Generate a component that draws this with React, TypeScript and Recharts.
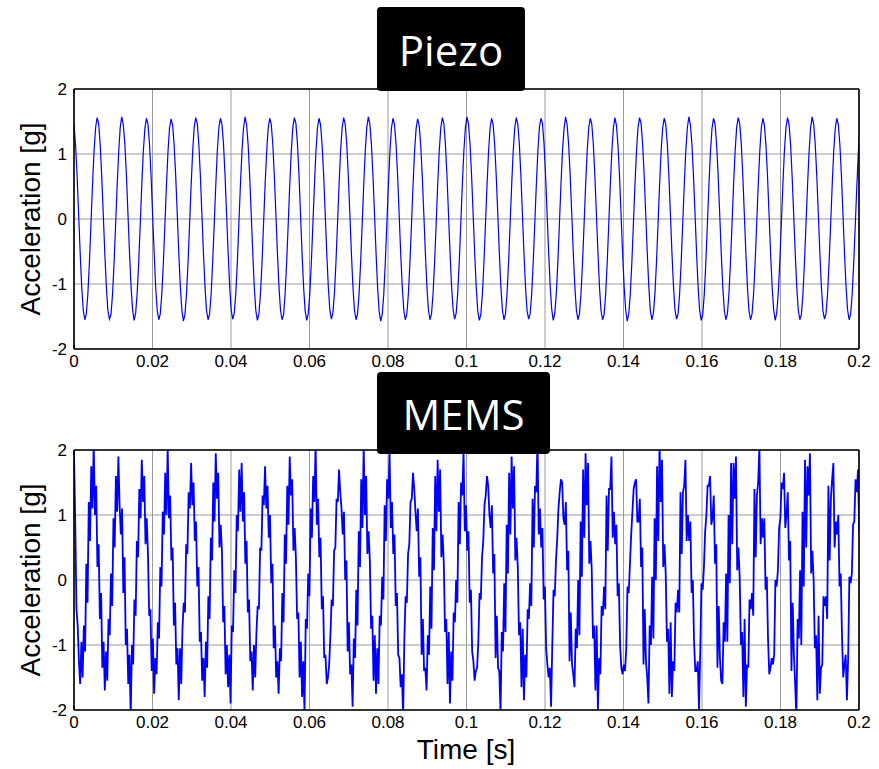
import React from 'react';
import { LineChart, Line, XAxis, YAxis, CartesianGrid } from 'recharts';

// Sampling rates (Hz) of the two recorded signals
const piezoRate = 2547;
const memsRate = 3184;

const xTicks = [0, 0.02, 0.04, 0.06, 0.08, 0.1, 0.12, 0.14, 0.16, 0.18, 0.2];
const yTicks = [-2, -1, 0, 1, 2];

const piezoValues = [
  1.46,1.15,0.67,0.08,-0.52,-1.04,-1.40,-1.55,-1.46,-1.15,-0.67,-0.08,0.52,1.04,1.40,1.56,
  1.47,1.14,0.66,0.07,-0.53,-1.05,-1.41,-1.54,-1.47,-1.16,-0.68,-0.09,0.51,1.03,1.41,1.57,
  1.45,1.16,0.68,0.09,-0.51,-1.03,-1.39,-1.56,-1.45,-1.14,-0.66,-0.07,0.53,1.05,1.39,1.55,
  1.46,1.15,0.67,0.08,-0.52,-1.05,-1.41,-1.55,-1.46,-1.15,-0.67,-0.08,0.52,1.04,1.40,1.54,
  1.44,1.13,0.66,0.08,-0.53,-1.04,-1.40,-1.57,-1.47,-1.16,-0.67,-0.09,0.51,1.04,1.41,1.56,
  1.47,1.15,0.67,0.07,-0.52,-1.04,-1.41,-1.55,-1.46,-1.15,-0.66,-0.08,0.52,1.05,1.40,1.55,
  1.46,1.16,0.68,0.09,-0.51,-1.03,-1.40,-1.54,-1.45,-1.14,-0.67,-0.07,0.53,1.04,1.40,1.57,
  1.45,1.14,0.66,0.08,-0.52,-1.05,-1.41,-1.56,-1.46,-1.15,-0.68,-0.08,0.52,1.03,1.39,1.55,
  1.46,1.15,0.67,0.08,-0.52,-1.04,-1.40,-1.55,-1.47,-1.15,-0.67,-0.08,0.52,1.04,1.41,1.56,
  1.47,1.16,0.67,0.07,-0.53,-1.05,-1.41,-1.56,-1.46,-1.16,-0.68,-0.09,0.51,1.04,1.40,1.55,
  1.45,1.14,0.68,0.09,-0.51,-1.03,-1.39,-1.54,-1.45,-1.14,-0.66,-0.07,0.53,1.05,1.40,1.56,
  1.46,1.15,0.66,0.08,-0.52,-1.04,-1.40,-1.55,-1.46,-1.15,-0.67,-0.08,0.52,1.04,1.41,1.57,
  1.46,1.15,0.67,0.08,-0.52,-1.05,-1.41,-1.57,-1.47,-1.16,-0.67,-0.08,0.52,1.03,1.40,1.55,
  1.45,1.14,0.67,0.07,-0.53,-1.04,-1.40,-1.55,-1.46,-1.15,-0.66,-0.09,0.51,1.04,1.39,1.54,
  1.44,1.13,0.66,0.08,-0.52,-1.04,-1.40,-1.55,-1.46,-1.15,-0.67,-0.08,0.52,1.04,1.40,1.56,
  1.47,1.16,0.68,0.09,-0.51,-1.03,-1.39,-1.54,-1.45,-1.14,-0.66,-0.07,0.53,1.05,1.41,1.57,
  1.46,1.15,0.67,0.08,-0.52,-1.05,-1.41,-1.56,-1.47,-1.16,-0.68,-0.09,0.51,1.03,1.40,1.55,
  1.45,1.14,0.66,0.08,-0.52,-1.04,-1.40,-1.55,-1.46,-1.15,-0.67,-0.08,0.52,1.04,1.40,1.56,
  1.46,1.15,0.67,0.07,-0.53,-1.05,-1.41,-1.54,-1.46,-1.15,-0.67,-0.08,0.52,1.04,1.41,1.55,
  1.47,1.16,0.68,0.09,-0.51,-1.03,-1.39,-1.56,-1.45,-1.14,-0.66,-0.07,0.53,1.05,1.39,1.57,
  1.45,1.14,0.66,0.08,-0.52,-1.04,-1.40,-1.55,-1.46,-1.15,-0.67,-0.08,0.52,1.04,1.40,1.55,
  1.46,1.15,0.67,0.08,-0.52,-1.05,-1.41,-1.55,-1.47,-1.16,-0.68,-0.09,0.51,1.03,1.40,1.56,
  1.44,1.13,0.66,0.07,-0.53,-1.04,-1.40,-1.57,-1.46,-1.15,-0.67,-0.08,0.52,1.04,1.41,1.56,
  1.47,1.15,0.67,0.08,-0.52,-1.04,-1.41,-1.55,-1.45,-1.14,-0.66,-0.07,0.53,1.05,1.40,1.55,
  1.46,1.16,0.68,0.09,-0.51,-1.03,-1.40,-1.54,-1.46,-1.15,-0.67,-0.08,0.52,1.04,1.40,1.57,
  1.45,1.14,0.66,0.08,-0.52,-1.05,-1.41,-1.56,-1.47,-1.16,-0.68,-0.09,0.51,1.03,1.39,1.55,
  1.46,1.15,0.67,0.08,-0.52,-1.04,-1.40,-1.55,-1.46,-1.15,-0.67,-0.08,0.52,1.04,1.41,1.56,
  1.47,1.16,0.67,0.07,-0.53,-1.05,-1.41,-1.55,-1.46,-1.15,-0.67,-0.08,0.52,1.04,1.40,1.55,
  1.45,1.14,0.68,0.09,-0.51,-1.03,-1.39,-1.56,-1.45,-1.14,-0.66,-0.07,0.53,1.05,1.40,1.56,
  1.46,1.15,0.66,0.08,-0.52,-1.04,-1.40,-1.55,-1.47,-1.16,-0.68,-0.09,0.51,1.03,1.41,1.57,
  1.46,1.15,0.67,0.08,-0.52,-1.05,-1.41,-1.54,-1.46,-1.15,-0.67,-0.08,0.52,1.04,1.40,1.55,
  1.45,1.14,0.67,0.07,-0.53,-1.04,-1.40,-1.55,-1.46,-1.15,-0.66,-0.09,0.51,1.04,1.39,1.54,
];

const memsValues = [
  1.95,0.9,-0.45,-0.7,-1.25,-1.6,-0.95,-1.5,-0.7,-1.1,0.25,-0.35,1.2,0.6,1.75,1.1,2.1,1.0,1.45,0.2,
  0.55,-0.6,-0.2,-1.35,-0.95,-1.7,-1.1,-1.55,-0.6,-0.85,0.1,-0.4,0.95,0.5,1.6,1.05,1.9,1.15,0.7,1.1,
  -0.2,0.35,-1.0,-0.75,-1.6,-1.15,-2.1,-1.0,-1.3,-0.3,-0.55,0.6,0.35,1.4,0.95,1.85,1.2,1.6,0.55,0.95,
  0.4,-0.55,-0.45,-1.4,-0.9,-1.75,-1.2,-1.45,-0.65,-0.9,0.2,-0.1,1.05,0.7,1.65,1.0,2.05,0.95,1.3,0.3,
  0.5,-0.7,-0.35,-1.3,-1.05,-1.85,-1.05,-1.6,-0.75,-0.35,-0.5,0.55,0.4,1.35,1.1,1.8,1.15,1.5,0.6,0.9,
  -0.1,0.2,-0.95,-0.8,-1.55,-1.2,-1.8,-0.95,-1.35,-0.25,-0.6,0.65,0.3,1.5,0.9,1.95,1.25,1.65,0.5,0.85,
  0.45,-0.65,-0.4,-1.45,-1.0,-1.65,-1.15,-1.9,-0.7,-0.8,0.15,-0.2,1.0,0.75,1.7,1.05,1.8,0.9,1.35,0.25,
  0.6,-0.5,-0.3,-1.25,-1.1,-1.7,-1.0,-1.5,-0.8,-0.4,-0.45,0.5,0.45,1.3,1.15,1.75,1.1,1.45,0.65,1.0,
  -0.05,0.25,-1.05,-0.7,-1.5,-1.25,-1.75,-1.05,-1.25,-0.2,-0.65,0.7,0.25,1.45,0.85,1.9,1.3,1.55,0.45,0.8,
  0.35,-0.6,-0.5,-1.5,-0.95,-1.8,-1.25,-2.05,-0.6,-0.75,0.1,-0.25,1.1,0.65,1.6,1.2,2.1,0.85,1.25,0.35,
  0.65,-0.45,-0.25,-1.2,-1.15,-1.6,-1.5,-1.3,-0.85,-0.3,-0.4,0.45,0.5,1.25,1.2,1.7,1.35,1.1,0.7,1.05,
  0.0,0.3,-1.1,-0.65,-1.45,-1.3,-1.95,-0.9,-1.2,-0.15,-0.7,0.75,0.2,1.55,0.8,2.05,1.0,1.6,0.4,0.75,
  0.3,-0.75,-0.55,-1.55,-0.85,-1.75,-1.05,-1.6,-0.55,-0.7,0.05,-0.3,1.15,0.6,1.55,1.25,1.95,0.8,1.2,0.4,
  0.7,-0.4,-0.2,-1.15,-1.2,-1.65,-1.45,-2.1,-0.9,-0.25,-0.35,0.4,0.55,1.2,1.25,1.65,1.4,1.05,0.75,1.1,
  0.05,0.35,-1.15,-0.6,-1.4,-1.35,-1.7,-0.85,-1.15,-0.1,-0.75,0.8,0.15,1.6,0.75,1.85,1.05,1.7,0.35,0.7,
  0.25,-0.8,-0.6,-1.6,-0.8,-1.9,-1.1,-1.55,-0.5,-0.65,0.0,-0.35,1.2,0.55,1.5,1.3,2.0,0.75,1.15,0.45,
  0.75,-0.35,-0.15,-1.1,-1.25,-1.55,-1.4,-1.35,-0.95,-0.2,-0.3,0.35,0.6,1.15,1.3,1.6,1.45,1.0,0.8,1.15,
  0.1,0.4,-1.2,-0.55,-1.35,-1.4,-2.05,-0.8,-1.1,-0.05,-0.8,0.85,0.1,1.65,0.7,1.9,1.1,1.75,0.3,0.65,
  0.2,-0.85,-0.65,-1.65,-0.75,-1.85,-1.15,-1.5,-0.45,-0.6,-0.05,-0.4,1.25,0.5,1.45,1.35,2.15,0.7,1.1,0.5,
  0.8,-0.3,-0.1,-1.05,-1.3,-1.5,-1.35,-1.95,-1.0,-0.15,-0.25,0.3,0.65,1.1,1.35,1.55,1.5,0.95,0.85,1.2,
  0.15,0.45,-1.25,-0.5,-1.3,-1.45,-1.65,-0.75,-1.05,0.0,-0.85,0.9,0.05,1.7,0.65,1.95,1.15,1.8,0.25,0.6,
  0.15,-0.9,-0.7,-1.7,-0.7,-2.0,-1.2,-1.45,-0.4,-0.55,-0.1,-0.45,1.3,0.45,1.4,1.4,1.9,0.65,1.05,0.55,
  0.85,-0.25,-0.05,-1.0,-1.35,-1.45,-1.3,-1.4,-1.05,-0.1,-0.2,0.25,0.7,1.05,1.4,1.5,1.55,0.9,0.9,1.25,
  0.2,0.5,-1.3,-0.45,-1.25,-1.5,-1.9,-0.7,-1.0,0.05,-0.9,0.95,0.0,1.75,0.6,2.1,1.2,1.85,0.2,0.55,
  0.1,-0.95,-0.75,-1.75,-0.65,-1.8,-1.25,-1.4,-0.35,-0.5,-0.15,-0.5,1.35,0.4,1.35,1.45,1.85,0.6,1.0,0.6,
  0.9,-0.2,0.0,-0.95,-1.4,-1.4,-1.25,-2.0,-1.1,-0.05,-0.15,0.2,0.75,1.0,1.45,1.45,1.6,0.85,0.95,1.3,
  0.25,0.55,-1.35,-0.4,-1.2,-1.55,-1.6,-0.65,-0.95,0.1,-0.95,1.0,-0.05,1.8,0.55,1.8,1.25,1.9,0.15,0.5,
  0.05,-1.0,-0.8,-1.8,-0.6,-1.95,-1.3,-1.35,-0.3,-0.45,-0.2,-0.55,1.4,0.35,1.3,1.5,2.05,0.55,0.95,0.65,
  0.95,-0.15,0.05,-0.9,-1.45,-1.35,-1.2,-1.3,-1.15,0.0,-0.1,0.15,0.8,0.95,1.5,1.4,1.65,0.8,1.0,1.35,
  0.3,0.6,-1.4,-0.35,-1.15,-1.6,-2.1,-0.6,-0.9,0.15,-1.0,1.05,-0.1,1.85,0.5,1.75,1.3,1.95,0.1,0.45,
  0.0,-1.05,-0.85,-1.85,-0.55,-1.75,-1.35,-1.3,-0.25,-0.4,-0.25,-0.6,1.45,0.3,1.25,1.55,1.8,0.5,0.9,0.7,
  1.0,-0.1,0.1,-0.85,-1.5,-1.3,-1.15,-1.85,-1.2,0.05,-0.05,0.1,0.85,0.9,1.55,1.35,1.7,0.75,1.05,1.4,
];

const piezoData = piezoValues.map((v, i) => ({ t: i / piezoRate, v }));
const memsData = memsValues.map((v, i) => ({ t: i / memsRate, v }));

const FONT = '"Liberation Sans", Arial, sans-serif';
const tickStyle = { fill: '#000', fontSize: 17, fontFamily: FONT };
const blank = () => '';

function Panel({ data, height, xAxisHeight, lineWidth }: { data: { t: number; v: number }[]; height: number; xAxisHeight: number; lineWidth: number }) {
  return (
    <LineChart width={879} height={height} data={data} margin={{ top: 89, right: 20, bottom: 0, left: 0 }}>
      <CartesianGrid xAxisId="x" yAxisId="y" stroke="#9a9a9a" strokeWidth={1} />
      <XAxis
        xAxisId="x"
        dataKey="t"
        type="number"
        domain={[0, 0.2]}
        ticks={xTicks}
        allowDataOverflow
        height={xAxisHeight}
        tickLine={false}
        tickSize={0}
        tickMargin={6}
        interval={0}
        axisLine={{ stroke: '#000', strokeWidth: 1.6 }}
        tick={tickStyle}
        tickFormatter={(v: number) => String(v)}
      />
      <XAxis xAxisId="xb" type="number" domain={[0, 0.2]} ticks={xTicks} orientation="bottom" mirror axisLine={false} tickSize={4} tickLine={{ stroke: '#000' }} tickFormatter={blank} interval={0} />
      <XAxis xAxisId="xt" type="number" domain={[0, 0.2]} ticks={xTicks} orientation="top" mirror axisLine={{ stroke: '#000', strokeWidth: 1.6 }} tickSize={4} tickLine={{ stroke: '#000' }} tickFormatter={blank} interval={0} />
      <YAxis
        yAxisId="y"
        type="number"
        domain={[-2, 2]}
        ticks={yTicks}
        allowDataOverflow
        width={74}
        tickLine={false}
        tickSize={0}
        tickMargin={7}
        interval={0}
        axisLine={{ stroke: '#000', strokeWidth: 1.6 }}
        tick={tickStyle}
      />
      <YAxis yAxisId="yl" type="number" domain={[-2, 2]} ticks={yTicks} orientation="left" mirror axisLine={false} tickSize={4} tickLine={{ stroke: '#000' }} tickFormatter={blank} interval={0} />
      <YAxis yAxisId="yr" type="number" domain={[-2, 2]} ticks={yTicks} orientation="right" mirror axisLine={{ stroke: '#000', strokeWidth: 1.6 }} tickSize={4} tickLine={{ stroke: '#000' }} tickFormatter={blank} interval={0} />
      <Line xAxisId="x" yAxisId="y" dataKey="v" type="linear" dot={false} stroke="#0000ff" strokeWidth={lineWidth} isAnimationActive={false} />
    </LineChart>
  );
}

const titleBox: React.CSSProperties = {
  position: 'absolute',
  background: '#000',
  color: '#fff',
  fontFamily: '"Open Sans", Lato, sans-serif',
  fontSize: 42,
  display: 'flex',
  alignItems: 'center',
  justifyContent: 'center',
  borderRadius: 4,
  zIndex: 2,
};

const yLabel: React.CSSProperties = {
  position: 'absolute',
  width: 300,
  height: 32,
  lineHeight: '32px',
  textAlign: 'center',
  fontFamily: FONT,
  fontSize: 28,
  color: '#000',
  transform: 'rotate(-90deg)',
  whiteSpace: 'nowrap',
};

export default function App() {
  return (
    <div style={{ position: 'absolute', left: 0, top: 0, width: 879, height: 769, background: '#fff', overflow: 'hidden' }}>
      <div style={{ position: 'absolute', left: 0, top: 0 }}>
        <Panel data={piezoData} height={385} xAxisHeight={36} lineWidth={1.2} />
      </div>
      <div style={{ position: 'absolute', left: 0, top: 361 }}>
        <Panel data={memsData} height={408} xAxisHeight={59} lineWidth={1.8} />
      </div>
      <div style={{ ...titleBox, left: 377, top: 7, width: 148, height: 84 }}>Piezo</div>
      <div style={{ ...titleBox, left: 377, top: 372, width: 173, height: 82 }}>MEMS</div>
      <div style={{ ...yLabel, left: 31 - 150, top: 219 - 16 }}>Acceleration [g]</div>
      <div style={{ ...yLabel, left: 31 - 150, top: 580 - 16 }}>Acceleration [g]</div>
      <div style={{ position: 'absolute', left: 316, top: 734, width: 300, height: 32, lineHeight: '32px', textAlign: 'center', fontFamily: FONT, fontSize: 28, color: '#000' }}>
        Time [s]
      </div>
    </div>
  );
}
